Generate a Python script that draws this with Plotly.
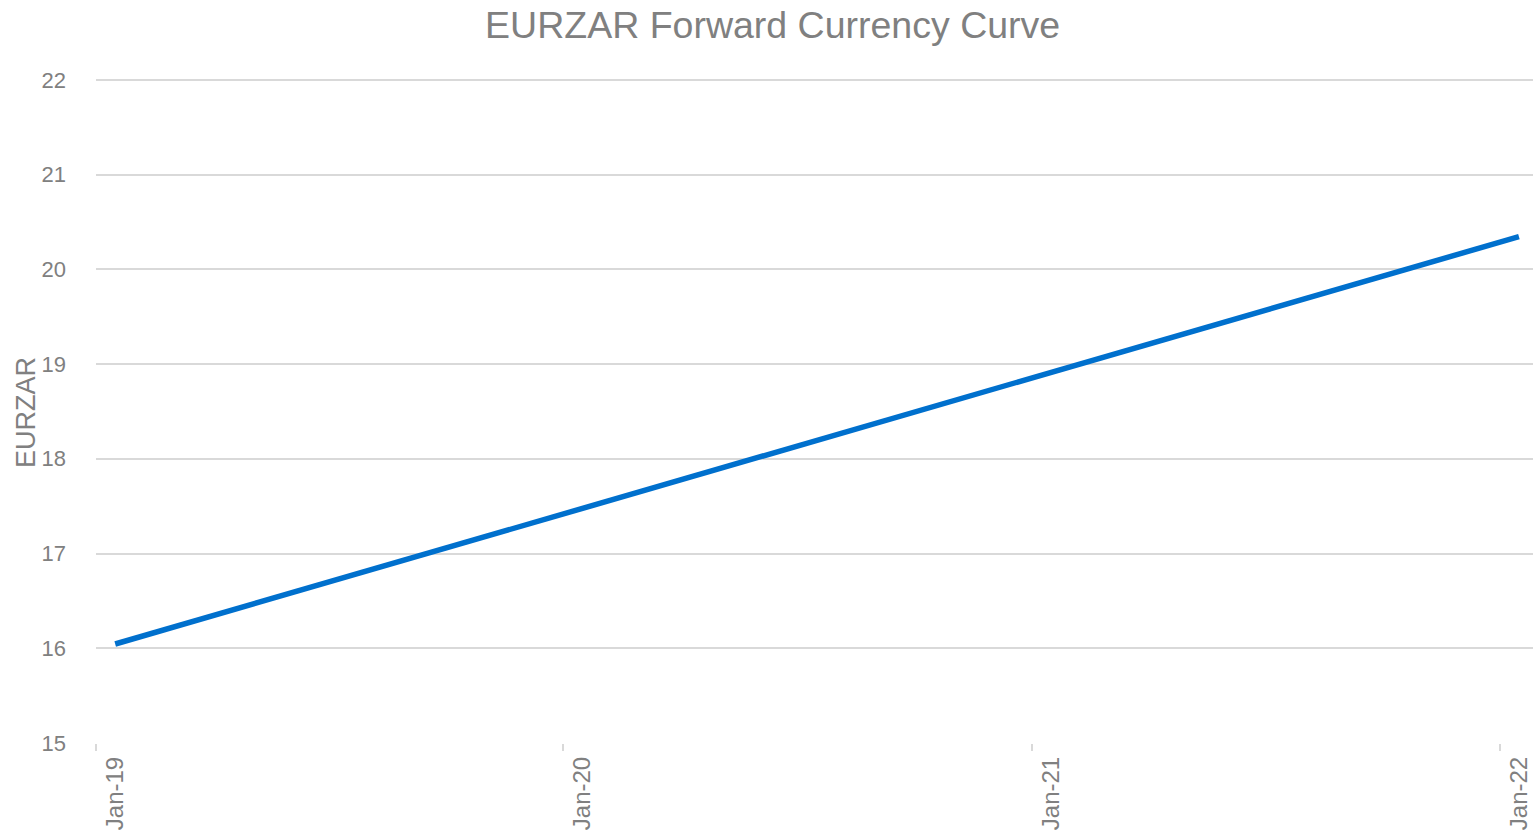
import plotly.graph_objects as go

# Data: monthly forward points (mid-month)
dates = [
    "2019-01-16", "2019-02-16", "2019-03-16", "2019-04-16", "2019-05-16", "2019-06-16",
    "2019-07-16", "2019-08-16", "2019-09-16", "2019-10-16", "2019-11-16", "2019-12-16",
    "2020-01-16", "2020-02-16", "2020-03-16", "2020-04-16", "2020-05-16", "2020-06-16",
    "2020-07-16", "2020-08-16", "2020-09-16", "2020-10-16", "2020-11-16", "2020-12-16",
    "2021-01-16", "2021-02-16", "2021-03-16", "2021-04-16", "2021-05-16", "2021-06-16",
    "2021-07-16", "2021-08-16", "2021-09-16", "2021-10-16", "2021-11-16", "2021-12-16",
    "2022-01-16",
]
eurzar = [
    16.045, 16.167, 16.276, 16.398, 16.516, 16.637, 16.755, 16.877, 16.998, 17.116, 17.238, 17.355,
    17.477, 17.599, 17.712, 17.834, 17.952, 18.073, 18.191, 18.313, 18.434, 18.552, 18.674, 18.791,
    18.913, 19.035, 19.144, 19.266, 19.384, 19.505, 19.623, 19.745, 19.866, 19.984, 20.106, 20.223,
    20.345,
]
label_dates = ["2019-01-16", "2020-01-16", "2021-01-16", "2022-01-16"]
label_text = ["Jan-19", "Jan-20", "Jan-21", "Jan-22"]
tick_mark_dates = ["2019-01-01", "2020-01-01", "2021-01-01", "2022-01-01"]

GRAY = "#808080"
GRID = "#D9D9D9"
FONT = "Liberation Sans, Arial, sans-serif"

fig = go.Figure()
fig.add_trace(go.Scatter(
    x=dates, y=eurzar, mode="lines",
    line=dict(color="#0070CD", width=5.5),
    showlegend=False, hoverinfo="x+y",
))

fig.update_layout(
    width=1533, height=832,
    margin=dict(l=96, r=0, t=77, b=89),
    paper_bgcolor="white", plot_bgcolor="white",
    font=dict(family=FONT, color=GRAY, size=22),
    title=dict(
        text="EURZAR Forward Currency Curve",
        x=0.504, xanchor="center", y=0.97, yanchor="middle",
        font=dict(size=37.5, color=GRAY, family=FONT),
    ),
    xaxis=dict(
        type="date",
        range=["2019-01-01", "2022-01-27"],
        tickmode="array", tickvals=label_dates, ticktext=label_text,
        tickangle=-90, ticks="", showgrid=False,
        tickfont=dict(size=24, color=GRAY, family=FONT),
        ticklabelstandoff=8,
        showline=False, zeroline=False, automargin=False,
        minor=dict(tickmode="array", tickvals=tick_mark_dates, ticks="outside",
                   ticklen=7, tickwidth=1.5, tickcolor=GRID, showgrid=False),
    ),
    yaxis=dict(
        range=[15, 22.03], dtick=1, tick0=15,
        showgrid=True, gridcolor=GRID, gridwidth=1.5,
        zeroline=False, showline=False, ticks="",
        tickfont=dict(size=22, color=GRAY, family=FONT),
        ticklabelstandoff=29, automargin=False,
    ),
    annotations=[dict(
        text="EURZAR", textangle=-90, showarrow=False,
        xref="paper", yref="paper", x=0, xshift=-70, y=0.5, yshift=-3,
        xanchor="center", yanchor="middle",
        font=dict(size=27, color=GRAY, family=FONT),
    )],
)

fig.write_html(
    "out.html",
    config={"displayModeBar": False},
    post_script="document.body.style.margin='0';document.body.style.overflow='hidden';",
)
